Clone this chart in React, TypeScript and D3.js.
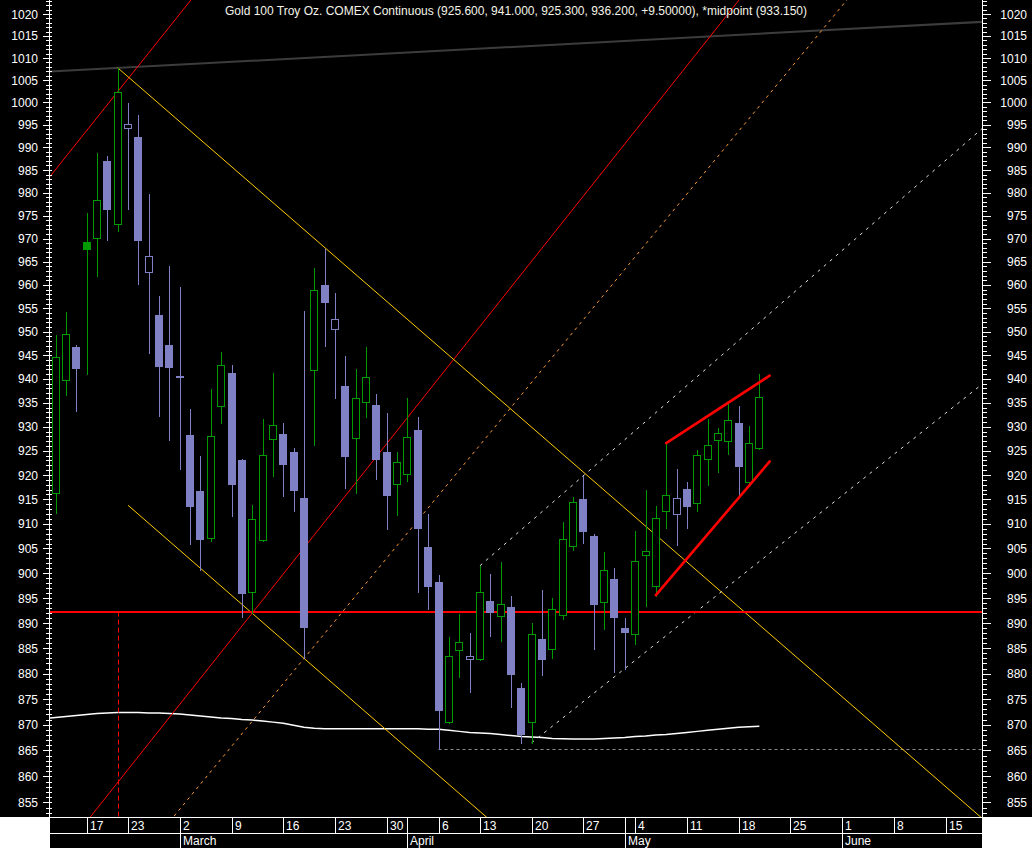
import React from 'react';
import * as d3 from 'd3';

// ---------------- data ----------------
const FIRST_DAY = '2009-02-09';
const LAST_DAY = '2009-06-19';
const HOLIDAYS = ['2009-02-16', '2009-04-10'];

const TITLE = 'Gold 100 Troy Oz. COMEX Continuous (925.600, 941.000, 925.300, 936.200, +9.50000), *midpoint (933.150)';

const candleDates = [
  '2009-02-11', '2009-02-12', '2009-02-13', '2009-02-17', '2009-02-18', '2009-02-19', '2009-02-20',
  '2009-02-23', '2009-02-24', '2009-02-25', '2009-02-26', '2009-02-27',
  '2009-03-02', '2009-03-03', '2009-03-04', '2009-03-05', '2009-03-06',
  '2009-03-09', '2009-03-10', '2009-03-11', '2009-03-12', '2009-03-13',
  '2009-03-16', '2009-03-17', '2009-03-18', '2009-03-19', '2009-03-20',
  '2009-03-23', '2009-03-24', '2009-03-25', '2009-03-26', '2009-03-27',
  '2009-03-30', '2009-03-31', '2009-04-01', '2009-04-02', '2009-04-03',
  '2009-04-06', '2009-04-07', '2009-04-08', '2009-04-09',
  '2009-04-13', '2009-04-14', '2009-04-15', '2009-04-16', '2009-04-17',
  '2009-04-20', '2009-04-21', '2009-04-22', '2009-04-23', '2009-04-24',
  '2009-04-27', '2009-04-28', '2009-04-29', '2009-04-30', '2009-05-01',
  '2009-05-04', '2009-05-05', '2009-05-06', '2009-05-07', '2009-05-08',
  '2009-05-11', '2009-05-12', '2009-05-13', '2009-05-14', '2009-05-15',
  '2009-05-18', '2009-05-19', '2009-05-20',
];
const opens = [
  916.4, 939.7, 946.7, 969.3, 970.2, 987.0, 973.2,
  994.4, 992.3, 962.7, 953.5, 947.2,
  940.6, 928.3, 916.7, 907.1, 934.4,
  941.3, 923.1, 896.3, 906.8, 927.5,
  928.5, 924.8, 915.3, 941.8, 960.0,
  950.6, 938.5, 927.7, 935.1, 934.5,
  924.8, 918.2, 920.3, 929.3, 905.3,
  898.2, 870.5, 884.7, 882.8,
  882.9, 894.4, 891.4, 893.2, 877.2,
  870.5, 886.8, 884.9, 891.6, 905.6,
  915.1, 907.5, 894.3, 898.8, 889.0,
  887.8, 903.6, 897.5, 912.7, 912.0,
  917.1, 914.2, 923.4, 927.2, 927.0,
  930.8, 918.5, 925.6,
];
const highs = [
  949.3, 954.1, 947.2, 975.5, 988.7, 988.0, 1007.8,
  999.9, 997.2, 979.7, 957.6, 964.1,
  959.5, 933.7, 923.9, 937.9, 945.7,
  942.9, 923.3, 913.8, 931.6, 941.2,
  930.8, 925.5, 954.3, 963.6, 967.7,
  958.3, 944.8, 942.1, 946.7, 936.8,
  932.9, 924.8, 935.9, 932.0, 912.0,
  899.6, 887.2, 891.8, 888.0,
  901.5, 899.8, 902.2, 895.4, 878.2,
  890.0, 896.6, 895.0, 910.4, 915.5,
  919.8, 907.9, 904.2, 901.1, 891.0,
  908.5, 916.9, 913.7, 926.6, 921.2,
  918.6, 925.2, 931.7, 929.7, 935.0,
  934.3, 930.1, 941.0,
];
const lows = [
  912.2, 936.7, 933.3, 941.1, 962.0, 969.7, 971.7,
  976.5, 960.2, 945.4, 932.3, 927.3,
  921.2, 906.0, 900.6, 906.6, 930.8,
  911.5, 891.3, 892.0, 906.5, 919.9,
  915.6, 912.7, 883.1, 926.3, 947.0,
  936.1, 917.3, 916.3, 932.1, 919.2,
  909.0, 911.9, 918.8, 896.3, 892.9,
  865.2, 870.3, 879.4, 876.3,
  882.7, 887.5, 886.5, 873.5, 866.4,
  866.5, 879.7, 883.1, 890.8, 904.6,
  906.2, 884.9, 888.8, 880.4, 880.9,
  885.9, 893.5, 895.5, 909.2, 905.8,
  909.2, 912.7, 917.9, 920.7, 924.4,
  915.8, 917.9, 925.3,
];
const closes = [
  944.6, 949.4, 942.3, 967.8, 978.3, 976.5, 1002.3,
  995.2, 969.7, 966.2, 942.8, 942.5,
  940.4, 913.7, 906.9, 928.0, 942.9,
  918.2, 896.1, 910.9, 924.1, 930.3,
  922.3, 917.0, 889.3, 959.0, 956.4,
  952.6, 924.0, 935.9, 940.4, 923.4,
  915.8, 922.6, 927.8, 909.2, 897.5,
  872.9, 883.4, 886.2, 883.4,
  896.2, 892.2, 893.8, 880.0, 868.1,
  887.8, 882.9, 892.8, 906.9, 914.4,
  908.6, 893.9, 900.6, 891.3, 888.2,
  902.4, 904.4, 911.1, 915.8, 915.2,
  913.7, 924.1, 926.1, 928.6, 931.5,
  921.9, 926.7, 936.2,
];

// white moving-average line, one value per trading day from Feb 10 to May 20
const maStart = '2009-02-10';
const maValues = [
  871.2, 871.4, 871.6, 871.8, 872.0, 872.2, 872.3, 872.4, 872.4, 872.4, 872.3, 872.3, 872.2,
  872.1, 871.9, 871.7, 871.5, 871.3, 871.2, 871.0, 870.9, 870.7, 870.5, 870.3, 869.9, 869.5,
  869.3, 869.2, 869.2, 869.2, 869.2, 869.2, 869.2, 869.2, 869.2,
  869.2, 869.2, 869.1, 869.1, 868.9, 868.7, 868.5, 868.4, 868.3, 868.1, 867.9, 867.7,
  867.6, 867.5, 867.3, 867.25, 867.2, 867.2, 867.2, 867.3, 867.4,
  867.5, 867.7, 867.8, 868.0, 868.1, 868.3, 868.5, 868.7, 868.9, 869.1, 869.3, 869.5, 869.6, 869.7,
];

// trend-line anchors: [date, price]
const grayTopLine: [string, number][] = [['2009-02-11', 1007.0], ['2009-05-20', 1015.5]];
const redUpperLine: [string, number][] = [['2009-02-11', 985.1], ['2009-02-20', 1002.4]];
const redLowerLine: [string, number][] = [['2009-03-11', 892.0], ['2009-04-20', 965.1]];
const orangeLine: [string, number][] = [['2009-03-02', 853.7], ['2009-04-15', 931.4]];
const yellowUpperLine: [string, number][] = [['2009-02-20', 1007.8], ['2009-04-20', 929.9]];
const yellowLowerLine: [string, number][] = [['2009-02-23', 913.8], ['2009-03-30', 868.9]];
const whiteUpperLine: [string, number][] = [['2009-04-13', 901.5], ['2009-05-11', 938.6]];
const whiteLowerLine: [string, number][] = [['2009-04-20', 866.5], ['2009-05-11', 890.8]];
const wedgeUpper: [string, number][] = [['2009-05-07', 926.6], ['2009-05-21', 940.7]];
const wedgeLower: [string, number][] = [['2009-05-06', 895.6], ['2009-05-21', 922.8]];
const supportLevel: [string, number] = ['2009-04-06', 865.2];
const redLevel = 892.3;
const redMarkerDate = '2009-02-20';

const yMajorTicks = d3.range(855, 1021, 5);
const yMinorTicks = d3.range(853, 1024, 1);
const MONTHS = ['January', 'February', 'March', 'April', 'May', 'June', 'July'];

// ---------------- layout ----------------
const W = 1032;
const H = 848;
const L = 50;
const R = 982;
const B = 817;
const GREEN = '#009a00';
const BLUE = '#8080c4';

const parse = d3.utcParse('%Y-%m-%d');
const fmt = d3.utcFormat('%Y-%m-%d');

function tradingDays(): string[] {
  const all = d3.utcDay.range(parse(FIRST_DAY)!, d3.utcDay.offset(parse(LAST_DAY)!, 1));
  return all
    .filter((d) => d.getUTCDay() !== 0 && d.getUTCDay() !== 6 && !HOLIDAYS.includes(fmt(d)))
    .map(fmt);
}

export default function App() {
  React.useEffect(() => {
    document.body.style.margin = '0';
  }, []);

  const days = tradingDays();
  const x = d3.scalePoint<string>().domain(days).range([34.85, 34.85 + 10.35 * (days.length - 1)]);
  const y = d3.scaleLog().domain([855, 1020]).range([802.4, 14]);

  const X = (d: string) => x(d) as number;

  const extLine = (pts: [string, number][], mode: 'both' | 'right' | 'segment') => {
    const x1 = X(pts[0][0]);
    const y1 = y(pts[0][1]);
    const x2 = X(pts[1][0]);
    const y2 = y(pts[1][1]);
    const m = (y2 - y1) / (x2 - x1);
    const xs = mode === 'both' ? L - 5 : x1;
    const xe = mode === 'segment' ? x2 : R + 5;
    return { x1: xs, y1: y1 + m * (xs - x1), x2: xe, y2: y1 + m * (xe - x1) };
  };

  // axis ticks on dates
  const dObjs = days.map((d) => parse(d)!);
  const weekStarts: number[] = [];
  const monthStarts: number[] = [];
  dObjs.forEach((d, i) => {
    if (i === 0) return;
    const p = dObjs[i - 1];
    if (d3.utcMonday.floor(d).getTime() !== d3.utcMonday.floor(p).getTime()) weekStarts.push(i);
    if (d.getUTCMonth() !== p.getUTCMonth()) monthStarts.push(i);
  });
  const inPlot = (i: number) => X(days[i]) > L + 1 && X(days[i]) < R - 1;

  const maLine = d3
    .line<number>()
    .x((_, i) => X(days[days.indexOf(maStart) + i]))
    .y((v) => y(v));

  const font = '"Liberation Sans", Arial, sans-serif';

  const trend = [
    { pts: grayTopLine, mode: 'both', stroke: '#3c3c3c', w: 2, dash: undefined },
    { pts: redUpperLine, mode: 'both', stroke: '#ff0000', w: 1, dash: undefined },
    { pts: redLowerLine, mode: 'both', stroke: '#ff0000', w: 1, dash: undefined },
    { pts: orangeLine, mode: 'both', stroke: '#ff9c3a', w: 1, dash: '3,4' },
    { pts: yellowUpperLine, mode: 'right', stroke: '#ffcc00', w: 1, dash: undefined },
    { pts: yellowLowerLine, mode: 'right', stroke: '#ffcc00', w: 1, dash: undefined },
    { pts: whiteUpperLine, mode: 'right', stroke: '#e0e0e0', w: 1, dash: '3,5' },
    { pts: whiteLowerLine, mode: 'right', stroke: '#e0e0e0', w: 1, dash: '3,5' },
  ] as const;

  return (
    <svg
      width={W}
      height={H}
      style={{ position: 'absolute', left: 0, top: 0, display: 'block' }}
      fontFamily={font}
    >
      <defs>
        <clipPath id="plot">
          <rect x={L} y={0} width={R - L} height={B} />
        </clipPath>
      </defs>
      <rect x={0} y={0} width={W} height={H} fill="#ffffff" />
      <rect x={0} y={0} width={W} height={B} fill="#000000" />
      <rect x={L} y={B} width={R - L} height={H - B} fill="#000000" />

      <g clipPath="url(#plot)">
        {/* moving average */}
        <path d={maLine(maValues) || ''} fill="none" stroke="#ffffff" strokeWidth={1.5} />
        {/* support dashed */}
        <line
          x1={X(supportLevel[0])}
          x2={R}
          y1={Math.round(y(supportLevel[1])) + 0.5}
          y2={Math.round(y(supportLevel[1])) + 0.5}
          stroke="#8a8a8a"
          strokeDasharray="3,3"
        />
        {trend.map((t, i) => {
          const p = extLine(t.pts as [string, number][], t.mode as any);
          return (
            <line key={i} {...p} stroke={t.stroke} strokeWidth={t.w} strokeDasharray={t.dash} />
          );
        })}
        {/* red level and marker */}
        <line x1={L} x2={R} y1={Math.round(y(redLevel))} y2={Math.round(y(redLevel))} stroke="#ff0000" strokeWidth={2} />
        <line
          x1={Math.round(X(redMarkerDate)) + 0.5}
          x2={Math.round(X(redMarkerDate)) + 0.5}
          y1={y(redLevel)}
          y2={B}
          stroke="#ff0000"
          strokeDasharray="5,3"
        />

        {/* candles */}
        {candleDates.map((d, i) => {
          const px = Math.round(X(d));
          const o = opens[i];
          const c = closes[i];
          const prev = i > 0 ? closes[i - 1] : o;
          const up = c >= prev;
          const color = up ? GREEN : BLUE;
          const hollow = c > o;
          const yt = Math.round(y(Math.max(o, c)));
          const yb = Math.round(y(Math.min(o, c)));
          const h = Math.max(yb - yt, 1);
          return (
            <g key={d}>
              <line
                x1={px + 0.5}
                x2={px + 0.5}
                y1={Math.round(y(highs[i]))}
                y2={Math.round(y(lows[i])) + 1}
                stroke={color}
              />
              {hollow ? (
                <rect x={px - 3.5} y={yt + 0.5} width={7} height={h} fill="#000" stroke={color} />
              ) : (
                <rect x={px - 4} y={yt} width={8} height={h + 1} fill={color} />
              )}
            </g>
          );
        })}

        {/* wedge */}
        {[wedgeUpper, wedgeLower].map((w, i) => {
          const p = extLine(w, 'segment');
          return <line key={i} {...p} stroke="#ff0000" strokeWidth={2.6} strokeLinecap="round" />;
        })}
      </g>

      {/* title */}
      <text x={W / 2} y={15} textAnchor="middle" fontSize={12} fill="#f4f4e8">
        {TITLE}
      </text>

      {/* left axis */}
      <line x1={L - 0.5} x2={L - 0.5} y1={0} y2={B} stroke="#fff" />
      {yMinorTicks.map((v) => (
        <line key={'lm' + v} x1={L - 4} x2={L + 2} y1={Math.round(y(v)) + 0.5} y2={Math.round(y(v)) + 0.5} stroke="#fff" />
      ))}
      {yMajorTicks.map((v) => (
        <g key={'lM' + v}>
          <line x1={L - 7} x2={L} y1={Math.round(y(v)) + 0.5} y2={Math.round(y(v)) + 0.5} stroke="#fff" />
          <text x={38} y={y(v) + 4.5} textAnchor="end" fontSize={12} fill="#fff">
            {v}
          </text>
        </g>
      ))}

      {/* right axis */}
      <line x1={R + 0.5} x2={R + 0.5} y1={0} y2={B} stroke="#fff" />
      {yMinorTicks.map((v) => (
        <line key={'rm' + v} x1={R} x2={R + 5} y1={Math.round(y(v)) + 0.5} y2={Math.round(y(v)) + 0.5} stroke="#fff" />
      ))}
      {yMajorTicks.map((v) => (
        <g key={'rM' + v}>
          <line x1={R} x2={R + 9} y1={Math.round(y(v)) + 0.5} y2={Math.round(y(v)) + 0.5} stroke="#fff" />
          <text x={1027} y={y(v) + 4.5} textAnchor="end" fontSize={12} fill="#fff">
            {v}
          </text>
        </g>
      ))}

      {/* bottom date axis */}
      <line x1={L} x2={R} y1={B + 0.5} y2={B + 0.5} stroke="#fff" />
      <line x1={L} x2={R} y1={B + 16.5} y2={B + 16.5} stroke="#fff" />
      {weekStarts.filter(inPlot).map((i) => (
        <g key={'w' + i}>
          <line x1={Math.round(X(days[i])) + 0.5} x2={Math.round(X(days[i])) + 0.5} y1={B} y2={B + 16} stroke="#fff" />
          <text x={Math.round(X(days[i])) + 3} y={B + 13} fontSize={12} fill="#fff">
            {dObjs[i].getUTCDate()}
          </text>
        </g>
      ))}
      {monthStarts.filter(inPlot).map((i) => (
        <g key={'m' + i}>
          <line x1={Math.round(X(days[i])) + 0.5} x2={Math.round(X(days[i])) + 0.5} y1={B} y2={H} stroke="#fff" />
          <text x={Math.round(X(days[i])) + 3} y={B + 28} fontSize={12} fill="#fff">
            {MONTHS[dObjs[i].getUTCMonth()]}
          </text>
        </g>
      ))}
    </svg>
  );
}
